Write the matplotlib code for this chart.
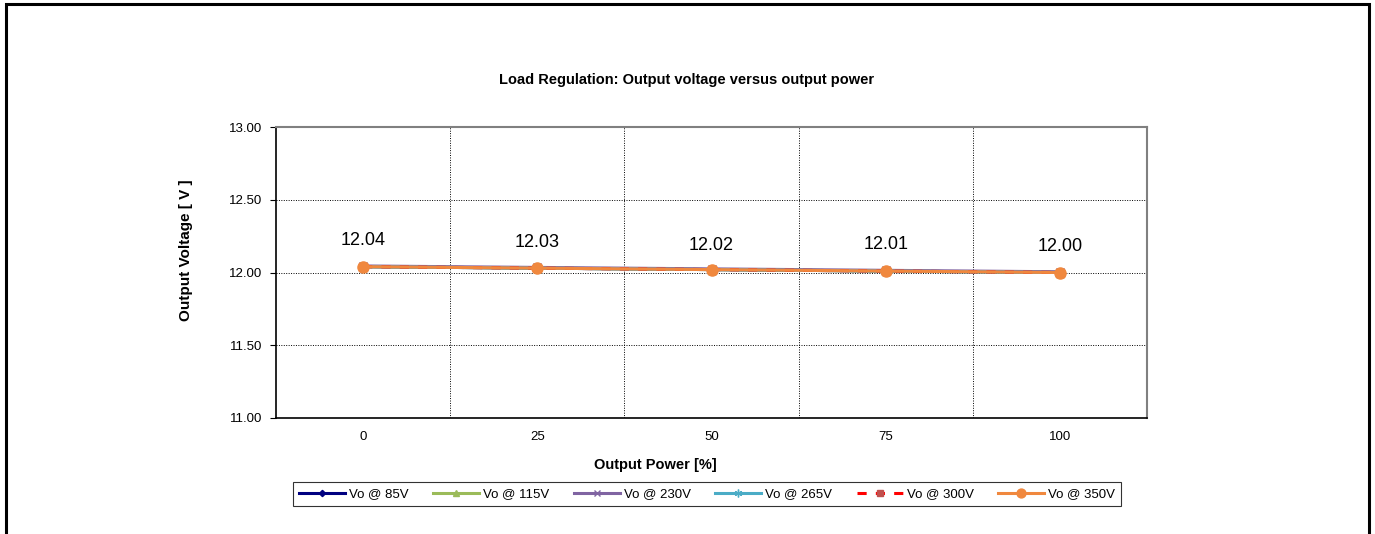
import matplotlib
matplotlib.use("Agg")
import matplotlib.pyplot as plt
from matplotlib.patches import Rectangle
from matplotlib.ticker import FixedLocator

plt.rcParams['font.family'] = ['Liberation Sans', 'DejaVu Sans']

categories = ["0", "25", "50", "75", "100"]
vo_85 = [12.04, 12.03, 12.02, 12.01, 12.00]
vo_115 = [12.04, 12.03, 12.02, 12.01, 12.00]
vo_230 = [12.045, 12.035, 12.025, 12.015, 12.005]
vo_265 = [12.04, 12.03, 12.02, 12.01, 12.00]
vo_300 = [12.04, 12.03, 12.02, 12.01, 12.00]
vo_350 = [12.04, 12.03, 12.02, 12.01, 12.00]
label_values = [12.04, 12.03, 12.02, 12.01, 12.00]
label_offsets = [19.0, 18.5, 17.0, 19.0, 18.5]

fig = plt.figure(figsize=(13.75, 5.34), dpi=100)
fig.patches.append(Rectangle((6/1375, -0.1), (1369-6)/1375, 1 - 4/534 + 0.1,
                             transform=fig.transFigure, fill=False,
                             edgecolor='black', linewidth=2.2))
ax = fig.add_axes([276/1375, 1 - 418/534, (1147-276)/1375, (418-127)/534])

x = list(range(len(categories)))
series = [
    ("Vo @ 85V", vo_85, dict(color='#000080', marker='D', markersize=4, linestyle='-')),
    ("Vo @ 115V", vo_115, dict(color='#9BBB59', marker='^', markersize=6, linestyle='-')),
    ("Vo @ 230V", vo_230, dict(color='#8064A2', marker='x', markersize=6, linestyle='-')),
    ("Vo @ 265V", vo_265, dict(color='#4BACC6', marker=(6, 2, 0), markersize=7, linestyle='-')),
    ("Vo @ 300V", vo_300, dict(color='#FF0000', marker='s', markersize=6, linestyle=(0, (3, 3)),
                               markerfacecolor='#C0504D', markeredgecolor='#C0504D')),
    ("Vo @ 350V", vo_350, dict(color='#F0883E', marker='o', markersize=8, linestyle='-')),
]
for name, vals, st in series:
    ax.plot(x, vals, label=name, linewidth=2.2, **st)

for xi, v, off in zip(x, label_values, label_offsets):
    ax.annotate(f"{v:.2f}", (xi, v), xytext=(0, off), textcoords='offset points',
                ha='center', va='center', fontsize=13)

ax.set_xlim(-0.5, 4.5)
ax.set_ylim(11.0, 13.0)
ax.set_yticks([11.0, 11.5, 12.0, 12.5, 13.0])
ax.set_yticklabels([f"{v:.2f}" for v in [11.0, 11.5, 12.0, 12.5, 13.0]], fontsize=9.5)
ax.set_xticks(x)
ax.set_xticklabels(categories, fontsize=9.5)
ax.tick_params(axis='x', which='major', length=0, pad=9)
ax.xaxis.set_minor_locator(FixedLocator([0.5, 1.5, 2.5, 3.5]))
ax.tick_params(axis='x', which='minor', length=0)
ax.tick_params(axis='y', which='major', length=4, direction='out', pad=6)

ax.grid(True, axis='y', which='major', color='black', linestyle=(0, (1, 1.5)), linewidth=0.7)
ax.grid(True, axis='x', which='minor', color='black', linestyle=(0, (1, 1.5)), linewidth=0.7)
ax.set_axisbelow(True)

for s in ['top', 'right']:
    ax.spines[s].set_color('#808080')
    ax.spines[s].set_linewidth(1.5)
for s in ['left', 'bottom']:
    ax.spines[s].set_color('black')
    ax.spines[s].set_linewidth(1.2)

fig.text(687/1375, 1 - 80/534, "Load Regulation: Output voltage versus output power",
         fontsize=10.5, fontweight='bold', ha='center', va='center')
fig.text(655/1375, 1 - 465/534, "Output Power [%]",
         fontsize=10.5, fontweight='bold', ha='center', va='center')
fig.text(186/1375, 1 - 250/534, "Output Voltage [ V ]", rotation=90,
         fontsize=11, fontweight='bold', ha='center', va='center')

leg = fig.legend(loc='center', bbox_to_anchor=(707/1375, 1 - 494/534), ncol=6,
                 fontsize=9.5, frameon=True, fancybox=False, edgecolor='black',
                 handlelength=3.5, columnspacing=1.85, handletextpad=0.3,
                 borderpad=0.45, markerscale=0.8)
leg.get_frame().set_linewidth(0.8)

fig.savefig("out.png", dpi=100)
